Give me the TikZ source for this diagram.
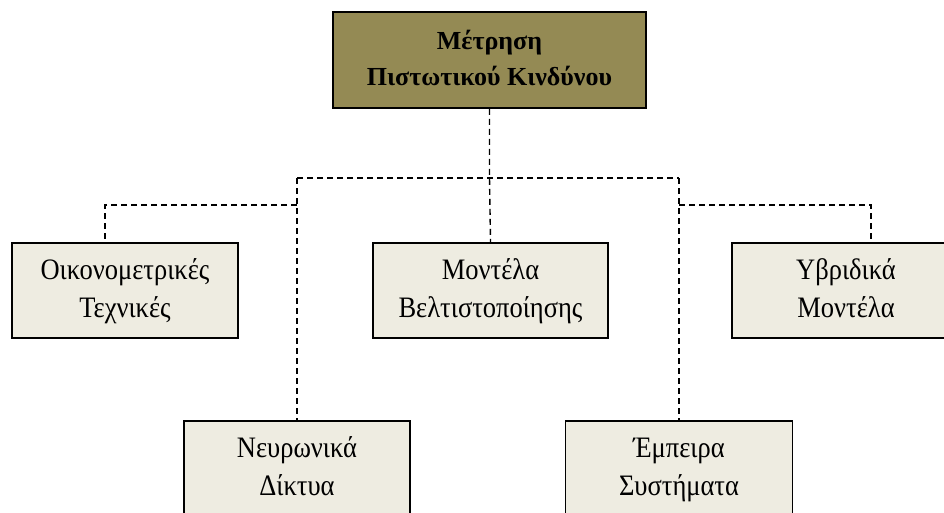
\documentclass[tikz,border=0pt]{standalone}
\usepackage{fontspec}
\usepackage{graphicx}
\setmainfont{Liberation Serif}
\definecolor{olivebox}{HTML}{948A54}
\definecolor{tanbox}{HTML}{EEECE1}
\newcommand{\twolines}[2]{\scalebox{1}[1.12]{\begin{tabular}{@{}c@{}}#1\\#2\end{tabular}}}
\newcommand{\toplines}[2]{\begin{tabular}{@{}c@{}}#1\\#2\end{tabular}}
\tikzset{
  topbox/.style={draw=black, line width=1.6pt, fill=olivebox, minimum width=313pt, minimum height=96pt, inner sep=0pt,
    font=\fontsize{26}{36}\selectfont\bfseries},
  catbox/.style={draw=black, line width=1.5pt, fill=tanbox, minimum height=95pt, inner sep=0pt,
    font=\fontsize{26.5}{34}\selectfont},
  link/.style={draw=black, line width=1.4pt, dash pattern=on 6pt off 4pt}
}
\begin{document}
\begin{tikzpicture}[x=1pt,y=-1pt]
\useasboundingbox (0,0) rectangle (944,512);
\clip (0,0) rectangle (944,512);
\fill[white] (0,0) rectangle (944,512);
\node[topbox] (top) at (489.5,60) {\toplines{Μέτρηση}{Πιστωτικού Κινδύνου}};
\node[catbox, minimum width=226pt] (oik) at (125,290.5) {\twolines{Οικονομετρικές}{Τεχνικές}};
\node[catbox, minimum width=235pt] (mid) at (490.5,290.5) {\twolines{Μοντέλα}{Βελτιστοποίησης}};
\node[catbox, minimum width=228pt] (yb) at (846,290.5) {\twolines{Υβριδικά}{Μοντέλα}};
\node[catbox, minimum width=226pt] (neur) at (297,468.5) {\twolines{Νευρωνικά}{Δίκτυα}};
\node[catbox, minimum width=227pt] (emp) at (679,468.5) {\twolines{Έμπειρα}{Συστήματα}};
\coordinate (j) at (top.south |- 0,178);
\coordinate (jl) at (neur.north |- 0,178);
\coordinate (jr) at (emp.north |- 0,178);
\coordinate (kl) at (neur.north |- 0,205);
\coordinate (kr) at (emp.north |- 0,205);
\coordinate (ol) at ([xshift=-20pt]oik.north);
\coordinate (yr) at ([xshift=25pt]yb.north);
\draw[link] (top.south) -- (j) -- (mid.north);
\draw[link] (jl) -- (jr);
\draw[link] (jl) -- (neur.north);
\draw[link] (jr) -- (emp.north);
\draw[link] (kl) -- (ol |- kl) -- (ol);
\draw[link] (kr) -- (yr |- kr) -- (yr);
\end{tikzpicture}
\end{document}
